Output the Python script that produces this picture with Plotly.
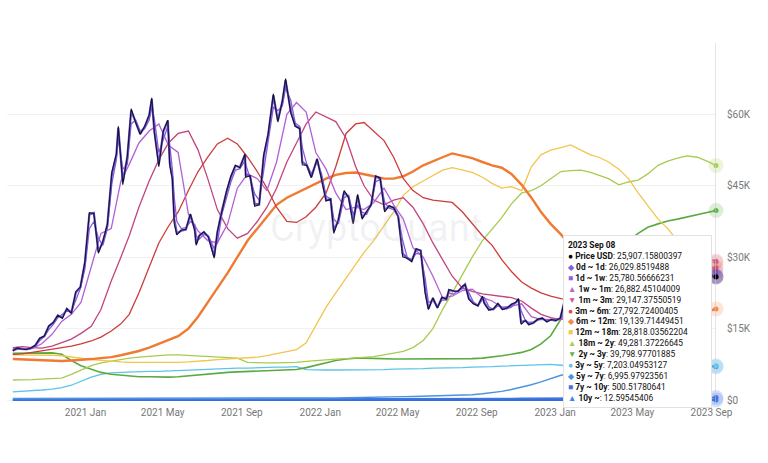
import plotly.graph_objects as go

# ---------------- data ----------------
price_dates = [
"2020-09-10","2020-09-17","2020-09-24","2020-10-01","2020-10-08","2020-10-15","2020-10-22","2020-10-29",
"2020-11-05","2020-11-12","2020-11-19","2020-11-26","2020-12-03","2020-12-10","2020-12-17","2020-12-24",
"2020-12-31","2021-01-07","2021-01-14","2021-01-21","2021-01-28","2021-02-04","2021-02-11","2021-02-18",
"2021-02-21","2021-02-28","2021-03-07","2021-03-13","2021-03-20","2021-03-27","2021-04-03","2021-04-10",
"2021-04-14","2021-04-18","2021-04-25","2021-05-02","2021-05-09","2021-05-12","2021-05-16","2021-05-19",
"2021-05-23","2021-05-30","2021-06-06","2021-06-13","2021-06-20","2021-06-22","2021-06-27","2021-07-04",
"2021-07-11","2021-07-20","2021-07-25","2021-08-01","2021-08-08","2021-08-15","2021-08-22","2021-08-29",
"2021-09-06","2021-09-07","2021-09-14","2021-09-21","2021-09-28","2021-10-05","2021-10-12","2021-10-20",
"2021-10-27","2021-11-03","2021-11-08","2021-11-16","2021-11-23","2021-11-30","2021-12-04","2021-12-11",
"2021-12-18","2021-12-27","2022-01-03","2022-01-10","2022-01-17","2022-01-22","2022-01-29","2022-02-07",
"2022-02-14","2022-02-21","2022-02-28","2022-03-07","2022-03-14","2022-03-21","2022-03-28","2022-04-04",
"2022-04-11","2022-04-18","2022-04-25","2022-05-02","2022-05-09","2022-05-16","2022-05-23","2022-05-30",
"2022-06-06","2022-06-13","2022-06-18","2022-06-25","2022-07-02","2022-07-09","2022-07-16","2022-07-20",
"2022-07-27","2022-08-03","2022-08-10","2022-08-14","2022-08-20","2022-08-27","2022-09-03","2022-09-10",
"2022-09-13","2022-09-20","2022-09-27","2022-10-04","2022-10-11","2022-10-18","2022-10-25","2022-11-01",
"2022-11-05","2022-11-09","2022-11-16","2022-11-21","2022-11-28","2022-12-05","2022-12-12","2022-12-19",
"2022-12-26","2023-01-02","2023-01-09","2023-01-16","2023-01-23","2023-01-30","2023-02-06","2023-02-13",
"2023-02-20","2023-02-27","2023-03-06","2023-03-10","2023-03-17","2023-03-24","2023-03-31","2023-04-07",
"2023-04-14","2023-04-21","2023-04-28","2023-05-05","2023-05-12","2023-05-19","2023-05-26","2023-06-02",
"2023-06-09","2023-06-15","2023-06-22","2023-06-29","2023-07-06","2023-07-13","2023-07-20","2023-07-27",
"2023-08-03","2023-08-10","2023-08-17","2023-08-24","2023-08-29","2023-09-01","2023-09-08"]

# values in thousands of USD
price_usd = [
10.34,10.95,10.73,10.62,10.93,11.50,12.99,13.45,15.59,16.29,17.80,17.15,19.20,18.25,22.80,23.73,
28.95,39.37,39.19,30.83,33.37,36.93,47.90,51.68,57.50,45.24,51.20,61.20,58.30,55.80,57.50,59.90,
63.50,56.20,49.00,56.60,58.80,49.20,46.40,37.00,34.70,35.70,35.80,39.10,35.50,32.50,34.60,35.30,
34.20,29.80,35.40,39.90,43.80,47.00,49.30,48.80,51.70,46.80,47.10,40.70,41.00,51.50,56.00,64.30,
58.40,62.90,67.50,60.30,57.50,57.00,49.40,49.30,46.70,50.70,46.40,41.80,42.20,35.00,37.90,44.00,
42.50,37.00,43.20,38.00,39.60,41.00,47.10,46.60,39.50,40.80,40.40,38.50,30.10,29.80,29.10,31.80,
31.40,22.40,19.00,21.50,19.30,21.60,21.20,23.20,22.90,22.80,23.90,24.30,21.10,20.20,19.80,21.80,
20.20,18.90,19.10,20.30,19.00,19.30,20.10,20.50,21.30,15.90,16.70,15.80,16.20,16.96,17.20,16.40,
16.90,16.70,17.20,21.20,22.90,22.80,22.90,21.80,24.40,23.50,22.40,20.20,27.40,27.50,28.50,27.90,
30.50,27.30,29.30,29.50,26.80,26.90,26.50,27.20,26.50,25.00,30.00,30.50,29.90,31.40,29.80,29.30,
29.20,29.40,26.60,26.10,27.70,25.90,25.90716]

band_0d_1d = [
10.36,10.93,10.76,10.64,10.91,11.48,12.95,13.42,15.50,16.25,17.76,17.30,19.15,18.30,22.60,23.70,
28.80,39.00,39.30,31.20,33.20,36.80,47.50,51.50,57.20,45.80,51.00,60.80,58.40,55.90,57.40,59.80,
63.20,56.50,49.50,56.40,58.70,49.80,46.70,38.00,35.00,35.60,35.80,39.00,35.70,32.80,34.50,35.30,
34.30,30.20,35.20,39.80,43.60,46.90,49.20,48.90,51.60,47.30,47.00,41.20,41.10,51.10,55.80,64.00,
58.70,62.70,67.20,60.70,57.60,57.10,50.00,49.30,46.80,50.60,46.60,42.00,42.20,35.50,37.80,43.70,
42.60,37.40,42.90,38.30,39.50,41.00,46.90,46.60,39.90,40.70,40.40,38.60,30.80,29.80,29.20,31.70,
31.40,23.00,19.20,21.40,19.40,21.50,21.20,23.10,22.90,22.80,23.80,24.30,21.30,20.30,19.80,21.70,
20.40,19.00,19.10,20.20,19.10,19.30,20.00,20.50,21.20,16.40,16.70,15.90,16.20,16.95,17.20,16.50,
16.90,16.70,17.20,21.00,22.80,22.80,22.90,21.90,24.30,23.50,22.40,20.40,27.10,27.50,28.40,28.00,
30.40,27.40,29.20,29.50,26.90,26.90,26.50,27.20,26.50,25.10,29.90,30.40,30.00,31.30,29.90,29.30,
29.20,29.40,26.80,26.10,27.60,26.00,26.02985]

band_1d_1w = [
10.45,10.70,10.80,10.68,10.80,11.30,12.50,13.30,14.80,15.90,17.30,18.00,18.70,18.60,21.00,23.40,
27.50,36.00,37.50,34.00,32.50,36.00,45.50,50.50,55.00,48.50,49.50,58.00,58.80,56.50,57.00,58.80,
61.50,59.00,52.00,55.00,57.50,53.50,48.50,42.50,37.50,36.00,36.20,37.50,36.80,34.50,33.80,34.80,
34.50,31.80,33.00,39.00,42.50,45.80,48.30,48.60,50.30,49.50,46.60,43.30,42.00,48.50,55.00,61.50,
60.80,61.80,65.50,63.00,58.20,57.50,53.00,49.50,47.50,50.00,47.50,42.80,42.30,38.00,37.00,42.50,
43.00,39.00,41.00,39.50,39.00,41.20,45.80,46.40,41.50,40.30,40.00,38.70,33.50,30.00,29.50,30.80,
30.60,25.50,20.50,20.90,19.50,21.00,21.00,22.50,22.20,23.00,23.40,24.20,22.50,20.60,19.90,21.00,
21.50,19.60,19.00,19.80,19.40,19.20,19.50,20.50,20.90,18.80,16.60,16.30,16.40,16.80,17.00,16.80,
16.80,16.70,17.00,20.00,22.50,23.00,23.10,22.00,24.20,23.60,22.50,21.20,25.50,27.70,28.00,28.10,
30.10,28.20,29.20,29.00,27.40,26.90,26.60,27.10,26.60,25.60,29.00,30.40,30.30,30.80,30.10,29.40,
29.20,29.40,28.00,26.20,26.80,26.40,25.78057]

# semi-monthly grid (10th and 25th of each month) for the slower bands
band_1w_1m = [
10.9,10.6,10.8,11.8,13.8,16.5,18.0,20.5,28.0,35.0,
36.0,46.0,49.5,54.0,56.5,58.0,53.5,52.0,39.0,35.5,
33.5,33.0,37.0,44.5,47.5,46.5,44.0,50.0,60.0,62.5,
60.5,52.0,48.5,43.5,40.0,40.5,40.0,41.5,44.5,41.0,
38.0,32.0,30.0,26.0,21.5,21.8,23.0,23.3,21.5,20.8,
19.5,19.7,20.2,17.5,16.9,17.0,17.0,19.5,22.5,22.8,
23.3,24.5,28.0,28.8,28.0,27.3,26.8,27.5,30.0,30.2,
29.5,28.5,26.88245]

band_1m_3m = [
11.0,11.2,11.0,10.9,11.3,12.0,12.8,14.0,15.5,19.0,
25.0,30.0,34.5,40.5,46.0,50.5,54.0,56.0,56.5,52.5,
46.5,40.0,36.0,34.0,35.0,37.5,40.5,44.5,50.0,54.0,
58.0,60.5,59.5,58.5,55.0,49.0,45.0,42.0,41.0,42.0,
42.5,40.5,37.0,33.0,29.5,26.0,23.5,22.8,22.3,22.0,
21.8,21.5,20.8,19.3,18.0,17.3,16.9,17.5,19.5,21.5,
22.5,23.5,24.5,26.5,28.0,28.6,28.3,27.6,27.5,28.5,
29.8,29.8,29.14738]

band_3m_6m = [
9.6,9.7,10.0,10.3,10.6,11.0,11.3,11.8,12.4,13.2,
14.5,16.0,18.0,22.5,28.0,33.0,36.5,39.5,44.0,48.0,
51.0,53.8,55.0,53.8,51.0,48.0,44.5,40.5,37.5,37.3,
38.5,40.5,43.5,49.0,56.0,58.0,58.3,56.5,54.5,51.0,
46.5,44.0,42.5,42.0,41.8,41.5,39.5,37.0,34.5,32.5,
29.5,27.0,24.8,23.5,22.5,21.8,21.3,21.0,20.5,20.0,
19.8,20.0,21.0,22.0,22.5,23.5,24.5,25.5,26.5,27.0,
27.5,27.8,27.79272]

band_6m_12m = [
8.6,8.5,8.4,8.3,8.2,8.2,8.3,8.4,8.6,8.8,
9.0,9.4,9.8,10.3,11.0,11.8,12.6,13.4,15.0,17.5,
20.5,23.5,26.7,30.0,33.5,36.0,38.5,41.0,42.5,43.5,
44.5,45.5,46.5,47.3,47.7,47.8,47.5,47.0,46.5,46.5,
47.0,48.0,49.3,50.2,51.0,51.8,51.3,50.8,50.0,49.3,
48.8,47.5,45.2,42.5,39.5,37.0,34.8,32.5,30.0,28.0,
26.5,25.0,23.5,22.5,21.5,20.8,20.3,19.8,19.4,19.0,
18.6,18.6,19.13971]

band_12m_18m = [
9.5,9.5,9.5,9.5,9.4,9.3,9.1,8.8,8.5,8.3,
8.1,8.0,7.9,7.9,7.8,7.8,7.8,7.9,8.0,8.1,
8.3,8.5,8.6,8.7,8.8,9.0,9.3,9.7,10.2,10.6,
12.0,15.5,19.5,22.5,25.5,28.5,31.0,33.5,36.5,39.5,
43.0,44.8,46.0,47.2,48.3,48.8,48.3,47.8,46.8,45.5,
44.5,44.8,44.0,49.0,51.5,52.5,53.0,53.6,52.5,51.5,
51.0,50.0,48.5,46.5,43.5,40.8,38.0,36.0,33.5,31.5,
30.0,29.2,28.81804]

band_18m_2y = [
4.2,4.2,4.3,4.4,4.5,4.6,5.4,6.3,7.2,7.8,
8.2,8.5,8.8,9.0,9.2,9.4,9.5,9.5,9.4,9.3,
9.2,9.1,9.0,8.8,7.9,7.8,7.8,7.8,7.8,7.9,
8.1,8.3,8.4,8.6,8.7,8.8,8.9,9.1,9.5,9.8,
10.2,11.0,12.5,15.0,19.0,22.5,26.5,30.0,33.5,36.0,
38.3,41.2,43.5,44.0,45.0,46.5,48.0,48.2,48.3,47.8,
47.2,46.5,45.2,45.8,46.2,47.5,49.3,50.2,50.8,51.3,
51.0,50.2,49.28137]

band_2y_3y = [
9.8,9.8,9.8,9.8,9.9,9.6,8.3,7.2,6.4,5.8,
5.4,5.2,5.0,4.9,4.9,4.8,4.8,4.9,5.1,5.3,
5.5,5.7,5.8,5.9,6.0,6.1,6.2,6.3,6.4,6.4,
6.8,7.3,7.9,8.3,8.6,8.8,8.8,8.7,8.7,8.6,
8.6,8.6,8.6,8.6,8.6,8.6,8.6,8.7,8.8,9.0,
9.3,9.6,10.0,10.6,11.8,13.5,17.0,21.0,25.0,28.0,
30.0,31.5,32.5,33.5,35.0,36.3,37.0,37.6,38.0,38.5,
39.0,39.4,39.79898]

band_3y_5y = [
1.7,1.8,1.9,2.1,2.3,2.6,3.1,3.9,4.8,5.4,
5.7,5.8,5.9,5.9,6.0,6.0,6.1,6.2,6.2,6.3,
6.4,6.5,6.6,6.7,6.7,6.8,6.8,6.9,6.9,7.0,
6.4,6.3,6.3,6.3,6.3,6.3,6.3,6.4,6.4,6.5,
6.5,6.6,6.6,6.7,6.7,6.8,6.8,6.9,6.9,7.0,
7.1,7.2,7.3,7.4,7.5,7.5,7.3,7.1,7.0,7.0,
7.0,7.1,7.1,7.1,7.1,7.2,7.2,7.2,7.2,7.2,
7.2,7.2,7.20305]

band_5y_7y = [
0.30,0.30,0.30,0.31,0.31,0.32,0.32,0.33,0.33,0.34,
0.34,0.35,0.35,0.35,0.36,0.36,0.37,0.37,0.38,0.38,
0.38,0.39,0.39,0.40,0.40,0.40,0.41,0.41,0.42,0.42,
0.43,0.43,0.44,0.45,0.46,0.48,0.50,0.55,0.60,0.65,
0.70,0.75,0.80,0.85,0.90,0.95,1.00,1.10,1.30,1.50,
1.80,2.20,2.70,3.20,3.80,4.50,5.20,5.60,5.90,6.10,
6.30,6.40,6.50,6.60,6.70,6.75,6.80,6.85,6.90,6.92,
6.95,6.97,6.99598]

band_7y_10y = [
0.060,0.062,0.064,0.066,0.068,0.070,0.072,0.075,0.078,0.080,
0.083,0.086,0.088,0.090,0.093,0.096,0.100,0.104,0.108,0.112,
0.116,0.120,0.124,0.128,0.132,0.136,0.140,0.145,0.150,0.155,
0.160,0.165,0.170,0.175,0.180,0.186,0.192,0.198,0.205,0.212,
0.220,0.228,0.236,0.245,0.254,0.263,0.272,0.282,0.292,0.302,
0.312,0.322,0.332,0.342,0.352,0.362,0.372,0.382,0.392,0.402,
0.412,0.422,0.432,0.442,0.452,0.460,0.468,0.475,0.482,0.488,
0.493,0.497,0.50052]

band_10y = [
0.0015,0.0016,0.0017,0.0018,0.0019,0.0020,0.0021,0.0022,0.0023,0.0024,
0.0025,0.0026,0.0028,0.0029,0.0030,0.0032,0.0033,0.0035,0.0036,0.0038,
0.0039,0.0041,0.0042,0.0044,0.0045,0.0047,0.0049,0.0050,0.0052,0.0054,
0.0056,0.0058,0.0060,0.0062,0.0064,0.0066,0.0068,0.0070,0.0072,0.0074,
0.0076,0.0078,0.0080,0.0082,0.0084,0.0086,0.0088,0.0090,0.0092,0.0094,
0.0096,0.0098,0.0100,0.0102,0.0104,0.0106,0.0108,0.0110,0.0112,0.0114,
0.0115,0.0116,0.0117,0.0118,0.0119,0.0120,0.0121,0.0122,0.0123,0.0124,
0.0125,0.01255,0.0126]

semi_dates = []
for yr, mo in [(2020, m) for m in range(9, 13)] + [(2021, m) for m in range(1, 13)] + \
              [(2022, m) for m in range(1, 13)] + [(2023, m) for m in range(1, 9)]:
    semi_dates += [f"{yr}-{mo:02d}-10", f"{yr}-{mo:02d}-25"]
semi_dates.append("2023-09-08")

series_names = ["Price USD", "0d ~ 1d", "1d ~ 1w", "1w ~ 1m", "1m ~ 3m", "3m ~ 6m", "6m ~ 12m",
                "12m ~ 18m", "18m ~ 2y", "2y ~ 3y", "3y ~ 5y", "5y ~ 7y", "7y ~ 10y", "10y ~"]
legend_values = ["25,907.15800397", "26,029.8519488", "25,780.56666231", "26,882.45104009",
                 "29,147.37550519", "27,792.72400405", "19,139.71449451", "28,818.03562204",
                 "49,281.37226645", "39,798.97701885", "7,203.04953127", "6,995.97923561",
                 "500.51780641", "12.59545406"]
legend_symbols = ["●", "◆", "■", "▲", "▼", "●", "◆", "■", "▲", "▼", "●", "◆", "■", "▲"]
line_colors = ["#15132b", "#6a55d8", "#8d5ad8", "#b35fd6", "#c2447e", "#cf3b3b", "#f07a32",
               "#f0c64e", "#a8cb4f", "#5aaa40", "#5cc3ea", "#4a93e0", "#4176da", "#2f6fe0"]
marker_colors = ["#000000", "#7b63e0", "#9a5fe0", "#b564d8", "#d1569a", "#e04a44", "#f5884a",
                 "#f2c84e", "#a9cf54", "#62b24a", "#5cc3ea", "#4a93e0", "#4a6fe0", "#3a86ea"]
line_widths = [1.1, 2.2, 1.3, 1.3, 1.3, 1.3, 2.4, 1.3, 1.3, 1.6, 1.3, 1.4, 1.6, 2.0]

price_like = [price_usd, band_0d_1d, band_1d_1w]
slow = [band_1w_1m, band_1m_3m, band_3m_6m, band_6m_12m, band_12m_18m, band_18m_2y,
        band_2y_3y, band_3y_5y, band_5y_7y, band_7y_10y, band_10y]
all_series = price_like + slow

fig = go.Figure()

# draw slowest bands first, price last (on top)
for i in reversed(range(len(all_series))):
    xs = price_dates if i < 3 else semi_dates
    fig.add_trace(go.Scatter(x=xs, y=all_series[i], mode="lines", name=series_names[i],
                             line=dict(color=line_colors[i], width=line_widths[i]),
                             hoverinfo="skip", showlegend=False))

# end-point halos
for i in reversed(range(len(all_series))):
    xs = price_dates if i < 3 else semi_dates
    fig.add_trace(go.Scatter(x=[xs[-1]], y=[all_series[i][-1]], mode="markers",
                             marker=dict(size=15, color=marker_colors[i], opacity=0.22),
                             hoverinfo="skip", showlegend=False, cliponaxis=False))
    fig.add_trace(go.Scatter(x=[xs[-1]], y=[all_series[i][-1]], mode="markers",
                             marker=dict(size=5, color=marker_colors[i]),
                             hoverinfo="skip", showlegend=False, cliponaxis=False))

# crosshair line
fig.add_shape(type="line", xref="x", yref="paper", x0=price_dates[-1], x1=price_dates[-1],
              y0=0, y1=1, line=dict(color="#c8c8c8", width=1))

# watermark
fig.add_annotation(text="CryptoQuant", xref="paper", yref="paper", x=0.52, y=0.49,
                   showarrow=False, font=dict(family="Roboto", size=38, color="rgba(170,170,185,0.16)"))

# tooltip box
rows = ["<b>2023 Sep 08</b>"]
for sym, col, nm, val in zip(legend_symbols, marker_colors, series_names, legend_values):
    rows.append(f"<span style='color:{col}'>{sym}</span> <b>{nm}</b>: {val}")
fig.add_annotation(text="<br>".join(rows), xref="paper", yref="paper", x=0.784, y=0.47,
                   xanchor="left", yanchor="top", align="left", showarrow=False,
                   width=139, bgcolor="white", bordercolor="#e2e2e2", borderwidth=1, borderpad=4,
                   font=dict(family="Roboto", size=8.4, color="#111111"))

fig.update_layout(
    width=768, height=463,
    margin=dict(l=7, r=52, t=43, b=58),
    paper_bgcolor="white", plot_bgcolor="white",
    hovermode=False, showlegend=False,
    font=dict(family="Roboto", color="#777777"),
    xaxis=dict(type="date", range=["2020-09-01", "2023-09-08"], tick0="2021-01-01", dtick="M4",
               tickformat="%Y %b", showgrid=False, zeroline=False, showline=False,
               ticks="", tickfont=dict(size=10, color="#777777")),
    yaxis=dict(side="right", range=[-1.05, 75], tickvals=[0, 15, 30, 45, 60, 75],
               ticktext=["$0", "$15K", "$30K", "$45K", "$60K", ""],
               showgrid=True, gridcolor="#f1f1f1", gridwidth=1, zeroline=False,
               showline=False, ticks="", ticklabelstandoff=10,
               tickfont=dict(size=10, color="#777777")),
)

fig.write_html("out.html", config={"displayModeBar": False},
               post_script="document.body.style.margin='0';")
